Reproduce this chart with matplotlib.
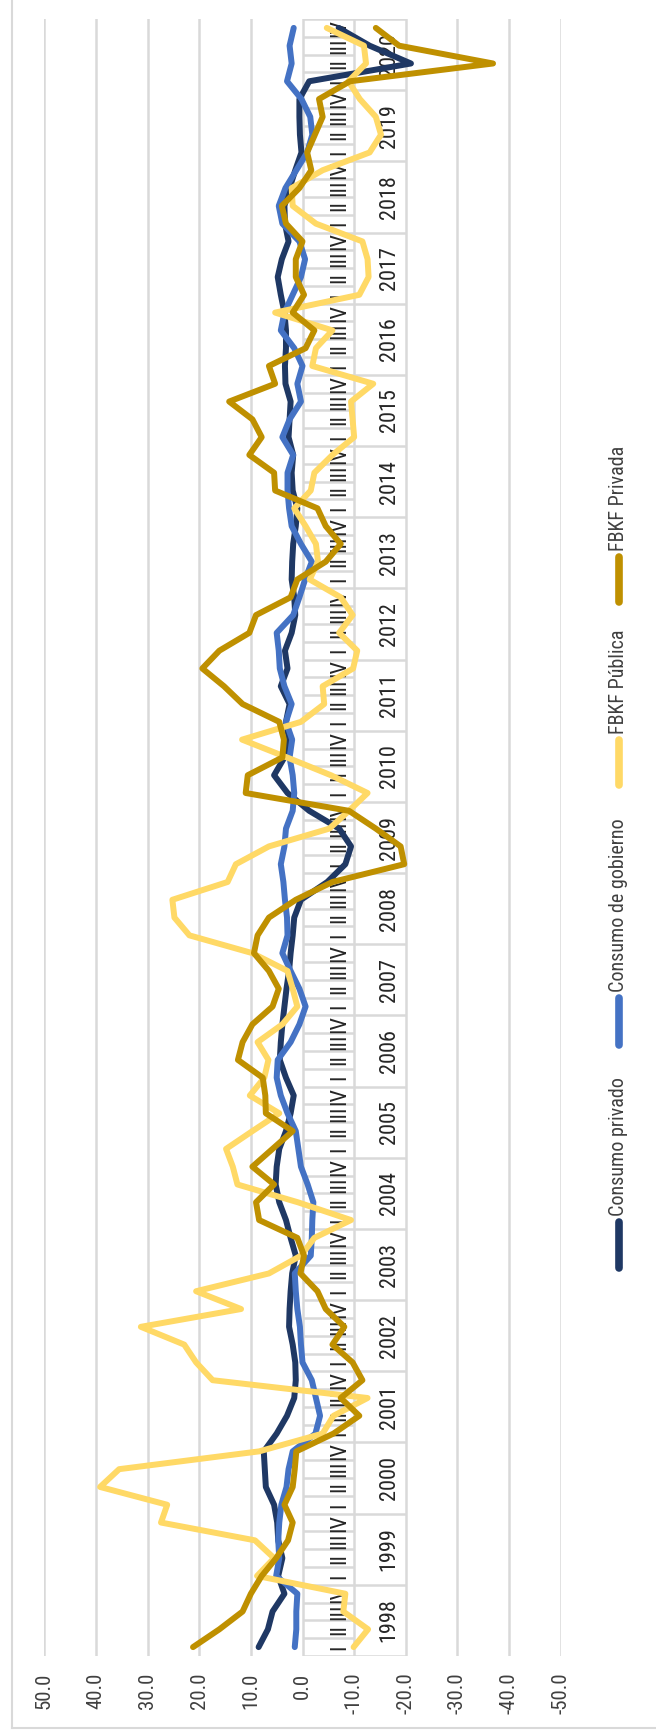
import numpy as np
import matplotlib.pyplot as plt
from matplotlib.lines import Line2D

plt.rcParams['font.family'] = ['Liberation Sans Narrow', 'Roboto Condensed',
                               'Liberation Sans', 'DejaVu Sans']

years = list(range(1998, 2021))
quarters = ['I', 'II', 'III', 'IV']

# variacion anual (%) trimestral, 1998-I a 2020-IV
consumo_privado = [8.5, 6.7, 5.8, 3.5, 4.7, 3.9, 4.7, 4.9, 5.5, 7.1, 7.3, 7.5,
                   5.0, 3.0, 1.6, 1.3, 1.4, 1.9, 2.6, 2.5, 2.3, 2.0, 1.3, 2.3,
                   3.2, 4.5, 5.2, 5.0, 4.5, 3.2, 2.3, 1.7, 3.2, 4.4, 4.2, 3.9,
                   3.5, 3.1, 2.6, 2.3, 1.9, 1.6, 0.3, -4.8, -8.3, -9.4, -7.1, -1.3,
                   2.9, 5.5, 3.5, 2.6, 3.2, 2.5, 4.2, 2.9, 3.4, 2.1, 1.4, 1.6,
                   2.1, 2.0, 1.8, 1.3, 1.0, 1.9, 2.1, 1.8, 2.7, 2.5, 2.3, 3.3,
                   3.4, 3.2, 3.2, 3.5, 4.2, 4.8, 4.0, 2.7, 3.4, 3.5, 2.5, 1.4,
                   0.2, 0.5, 0.6, 0.6, -1.3, -21.0, -13.0, -7.0]
consumo_gobierno = [1.5, 1.2, 1.2, 1.0, 5.1, 4.5, 4.7, 4.5, 4.1, 3.1, 2.7, 1.9,
                    -2.5, -3.4, -2.6, -1.8, 0.0, 0.3, 0.5, 1.0, 1.3, 1.5, -1.6, -1.8,
                    -1.9, -2.1, -1.0, 0.3, 0.8, 1.3, 2.9, 4.2, 5.0, 4.8, 2.3, 0.6,
                    -0.6, 0.6, 2.3, 3.9, 2.9, 3.0, 3.4, 3.7, 4.2, 3.5, 3.2, 1.9,
                    1.6, 1.9, 2.5, 2.0, 3.2, 2.1, 3.5, 4.4, 4.6, 5.0, 1.8, 0.6,
                    -0.5, -1.8, 0.3, 2.1, 2.6, 2.9, 2.9, 1.8, 3.9, 2.5, 0.3, 1.0,
                    0.0, 1.6, 4.2, 3.5, 1.9, 0.3, -0.5, 0.6, 3.9, 4.6, 3.3, 1.2,
                    -0.9, -1.9, -1.5, 0.2, 3.0, 2.1, 2.5, 1.7]
fbkf_publica = [-9.9, -12.7, -7.9, -8.3, 8.8, 5.5, 9.2, 27.4, 26.2, 39.2, 35.5, 8.4,
                -3.9, -6.0, -12.6, 17.4, 20.6, 22.9, 31.3, 11.9, 20.6, 6.5, 0.3, -2.3,
                -9.4, 0.9, 12.6, 13.5, 14.8, 9.7, 4.5, 10.2, 7.4, 6.6, 8.7, 3.9,
                1.0, 1.9, 2.9, 9.7, 21.9, 24.8, 25.2, 14.5, 12.9, 6.5, -5.2, -9.0,
                -12.6, -5.5, 3.0, 11.7, 0.3, -4.2, -3.9, -9.8, -10.6, -7.1, -9.7, -7.4,
                -1.4, -3.0, -2.6, -0.6, 1.6, -1.6, -2.3, -5.8, -10.0, -9.7, -9.4, -13.7,
                -1.9, -2.6, -5.8, 5.3, -11.0, -12.8, -12.6, -11.6, -2.6, 1.9, 2.1, -3.9,
                -13.0, -15.2, -14.2, -11.1, -8.9, -12.3, -11.9, -4.7]
fbkf_privada = [21.2, 16.1, 11.6, 10.0, 7.9, 5.1, 2.8, 1.9, 3.5, 1.9, 1.5, 1.2,
                -6.0, -11.0, -7.4, -11.6, -9.7, -5.8, -8.1, -4.5, -2.9, 0.4, -0.3, 1.0,
                8.4, 9.0, 5.5, 9.7, 5.8, 1.9, 7.1, 7.2, 7.7, 12.5, 11.6, 9.7,
                5.8, 4.6, 6.5, 9.4, 8.7, 6.5, 1.3, -5.8, -19.7, -19.0, -14.2, -9.0,
                11.0, 10.6, 3.9, 3.6, 4.5, 11.6, 15.2, 19.4, 16.1, 10.3, 9.0, 2.3,
                1.0, -4.5, -7.4, -4.5, -2.9, 5.3, 5.5, 10.3, 7.9, 9.7, 14.2, 5.3,
                6.5, -0.6, -2.3, 1.9, -0.3, 1.3, 1.3, 0.0, 3.2, 4.0, 0.6, -1.7,
                -0.9, -2.4, -3.9, -3.2, -9.2, -36.9, -18.7, -14.2]

series = [('Consumo privado', consumo_privado, '#1F3864'),
          ('Consumo de gobierno', consumo_gobierno, '#4472C4'),
          ('FBKF Pública', fbkf_publica, '#FFD966'),
          ('FBKF Privada', fbkf_privada, '#BF9000')]

W, H = 656, 1732
grid_c = '#D9D9D9'
txt_c = '#404040'

fig = plt.figure(figsize=(W / 100, H / 100), dpi=100)
ax = fig.add_axes([44.3 / W, (H - 1656) / H, (560.7 - 44.3) / W, (1656 - 19) / H])

n = len(consumo_privado)
pos = np.arange(n) + 0.5

for name, vals, col in series:
    ax.plot(vals, pos, color=col, lw=4.3, solid_joinstyle='round',
            solid_capstyle='round', zorder=5)

ax.set_xlim(50, -50)
ax.set_ylim(0, n)
ticks = np.arange(50, -51, -10)
ax.set_xticks(ticks)
ax.set_xticklabels([f'{t:.1f}' for t in ticks], rotation=90, fontsize=15,
                   color=txt_c)
ax.tick_params(axis='x', length=0, pad=12)
ax.set_yticks([])
for s in ax.spines.values():
    s.set_visible(False)
for t in ticks:
    ax.axvline(t, color=grid_c, lw=1.8, zorder=1)

# eje de categorias multinivel (trimestres / años)
for j in range(n + 1):
    x_end = -20 if j % 4 == 0 else -10
    ax.plot([0, x_end], [j, j], color=grid_c, lw=1.8, zorder=1,
            solid_capstyle='butt')
for j in range(n):
    ax.text(-7.2, j + 0.5, quarters[j % 4], rotation=90, ha='center',
            va='center', fontsize=16, color='#262626', zorder=2)
for i, yr in enumerate(years):
    ax.text(-16.8, 4 * i + 2, str(yr), rotation=90, ha='center', va='center',
            fontsize=16, color='#262626', zorder=2)

# leyenda
legend_pos = [(1222, 1268), (998, 1045), (740, 785), (557, 602)]
lx = 619 / W
for (name, vals, col), (top, bot) in zip(series, legend_pos):
    fig.add_artist(Line2D([lx, lx], [1 - top / H, 1 - bot / H], color=col,
                          lw=5.5, solid_capstyle='round'))
    fig.text(lx - 1 / W, 1 - (top - 6) / H, name, rotation=90, ha='center',
             va='bottom', fontsize=14.5, color=txt_c)

# borde del grafico
fig.add_artist(Line2D([12 / W, 12 / W], [1, 1 - 1728 / H], color=grid_c, lw=1.5))
fig.add_artist(Line2D([12 / W, 1], [1 - 1728 / H, 1 - 1728 / H], color=grid_c, lw=1.5))

fig.savefig('out.png', dpi=100)
